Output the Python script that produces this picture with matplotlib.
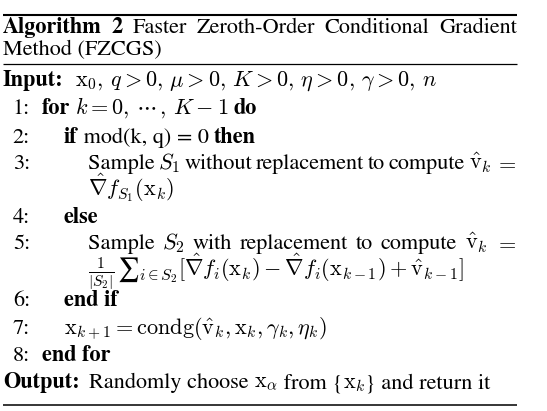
import matplotlib
matplotlib.use("Agg")
import matplotlib.pyplot as plt

plt.rcParams['font.family'] = ['STIXGeneral', 'DejaVu Serif']
plt.rcParams['mathtext.fontset'] = 'cm'

FS = 16
W, H = 547, 411

# ---- content ----
title_tokens = [("Algorithm", "bold"), ("2", "bold"), ("Faster", "normal"),
                ("Zeroth-Order", "normal"), ("Conditional", "normal"), ("Gradient", "normal")]
title_line2 = "Method (FZCGS)"
input_label = "Input:"
input_math = r"$\mathrm{x}_0,\, q > 0,\, \mu > 0,\, K > 0,\, \eta > 0,\, \gamma > 0,\, n$"
line_numbers = ["1:", "2:", "3:", "", "4:", "5:", "", "6:", "7:", "8:"]
line_indent = [1, 2, 3, 3, 2, 3, 3, 2, 2, 1]
GAP = 5
line_segments = [
    [("for", "bold"), ("", "gap", GAP), (r"$k = 0,\,\cdots\,,\,K - 1$", "normal"),
     ("", "gap", GAP), ("do", "bold")],
    [("if", "bold"), (" mod(k, q) = 0 ", "normal"), ("then", "bold")],
    "J1",
    [(r"$\hat{\nabla} f_{S_1}(\mathrm{x}_k)$", "normal")],
    [("else", "bold")],
    "J2",
    [(r"$\frac{1}{|S_2|}$", "normal"), ("", "gap", 3), ("\u2211", "normal", 17, 0),
     (r"$i \in S_2$", "normal", 11.5, 4),
     (r"$[\hat{\nabla} f_i(\mathrm{x}_k) - \hat{\nabla} f_i(\mathrm{x}_{k-1}) + \hat{\mathrm{v}}_{k-1}]$", "normal")],
    [("end if", "bold")],
    [(r"$\mathrm{x}_{k+1} = \mathrm{condg}(\hat{\mathrm{v}}_k, \mathrm{x}_k, \gamma_k, \eta_k)$", "normal")],
    [("end for", "bold")],
]
justified = {
    "J1": ["Sample", r"$S_1$", "without", "replacement", "to", "compute", r"$\hat{\mathrm{v}}_k$", r"$=$"],
    "J2": ["Sample", r"$S_2$", "with", "replacement", "to", "compute", r"$\hat{\mathrm{v}}_k$", r"$=$"],
}
output_label = "Output:"
output_pieces = [("Randomly choose ", "normal"), (r"$\mathrm{x}_\alpha$", "normal"),
                 (" from {", "normal"), (r"$\mathrm{x}_k$", "normal"),
                 ("} and return it", "normal")]

# ---- layout ----
X_LEFT, X_RIGHT = 3, 517
NUM_RIGHT = 30
INDENT_X = {1: 42, 2: 64, 3: 88}
Y_TITLE = [33, 55]
Y_INPUT = 86
Y_LINES = [114, 143, 169, 196, 223, 249, 276, 306, 334, 361]
Y_OUTPUT = 388

fig = plt.figure(figsize=(W / 100, H / 100), dpi=100)
ax = fig.add_axes([0, 0, 1, 1])
ax.set_xlim(0, W)
ax.set_ylim(H, 0)
ax.axis('off')
renderer = fig.canvas.get_renderer()


def width_of(t):
    bb = t.get_window_extent(renderer=renderer)
    return bb.width


def put(s, x, y, weight="normal", ha="left", size=FS):
    return ax.text(x, y, s, fontsize=size, fontweight=weight, ha=ha, va="baseline", color="black")


def seq(pieces, x, y):
    for p in pieces:
        s, w = p[0], p[1]
        if w == "gap":
            x += p[2]
            continue
        size = p[2] if len(p) > 2 else FS
        dy = p[3] if len(p) > 3 else 0
        t = put(s, x, y + dy, w, size=size)
        x += width_of(t)
    return x


def justify(tokens, x0, x1, y):
    objs = []
    for tok in tokens:
        if isinstance(tok, tuple):
            s, w = tok
        else:
            s, w = tok, "normal"
        objs.append(put(s, 0, y, w))
    widths = [width_of(o) for o in objs]
    gap = (x1 - x0 - sum(widths)) / (len(objs) - 1)
    x = x0
    for o, wd in zip(objs, widths):
        o.set_x(x)
        x += wd + gap


# rules
ax.plot([X_LEFT, X_RIGHT], [15, 15], color="black", lw=1.5, solid_capstyle="butt")
ax.plot([X_LEFT, X_RIGHT], [64, 64], color="black", lw=0.9, solid_capstyle="butt")
ax.plot([X_LEFT, X_RIGHT], [405, 405], color="black", lw=1.1, solid_capstyle="butt")

# title
justify(title_tokens, X_LEFT, X_RIGHT, Y_TITLE[0])
put(title_line2, X_LEFT, Y_TITLE[1])

# input
x = seq([(input_label, "bold")], X_LEFT, Y_INPUT)
put(input_math, x + 11, Y_INPUT)

# numbered lines
for num, ind, segs, y in zip(line_numbers, line_indent, line_segments, Y_LINES):
    if num:
        put(num, NUM_RIGHT, y, ha="right")
    if isinstance(segs, str):
        justify(justified[segs], INDENT_X[ind], X_RIGHT, y)
    else:
        seq(segs, INDENT_X[ind], y)

# output
x = seq([(output_label, "bold")], X_LEFT, Y_OUTPUT)
seq(output_pieces, x + 9, Y_OUTPUT)

fig.savefig("out.png", dpi=100)
